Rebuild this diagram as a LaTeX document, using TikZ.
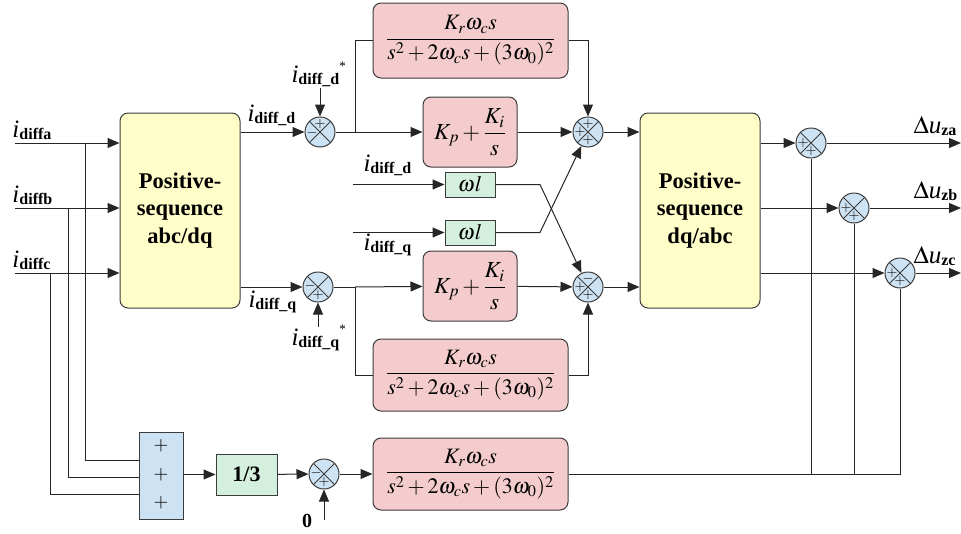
\documentclass[tikz,border=0pt]{standalone}
\usepackage{amsmath}
\usepackage{mathptmx}
\usepackage{fontspec}
\setmainfont{Liberation Serif}
\usetikzlibrary{arrows.meta,calc}
\definecolor{yelfill}{RGB}{255,253,200}
\definecolor{pinkfill}{RGB}{244,204,206}
\definecolor{grnfill}{RGB}{212,239,222}
\definecolor{bluefill}{RGB}{205,226,242}
\definecolor{edge}{RGB}{60,60,60}
\newcommand\ilab[1]{\textit{i}\raisebox{-2pt}{\fontsize{16}{16}\selectfont\textbf{#1}}}
\newcommand\ulab[1]{$\Delta$\textit{u}\raisebox{-2pt}{\fontsize{16}{16}\selectfont\textbf{#1}}}
\newcommand\stary{\raisebox{12pt}{\fontsize{13}{13}\selectfont *}}
\begin{document}
\begin{tikzpicture}[x=1pt,y=-1pt,line width=1pt,
  arr/.style={draw=black!85,-{Triangle[length=12pt,width=10pt]}},
  ln/.style={draw=black!85},
  yel/.style={draw=edge,fill=yelfill,rounded corners=8pt,minimum width=120pt,minimum height=195pt,align=center,font=\fontsize{22.5}{27.5}\selectfont\bfseries},
  pk/.style={draw=edge,fill=pinkfill,rounded corners=8pt,inner sep=0pt,font=\fontsize{22}{22}\selectfont},
  gr/.style={draw=edge,fill=grnfill,inner sep=0pt,minimum width=50pt,minimum height=25pt,font=\fontsize{22}{22}\selectfont},
  sumc/.style={circle,draw=edge,fill=bluefill,minimum size=30pt,inner sep=0pt,
    path picture={\draw[line width=0.9pt,edge] (path picture bounding box.north west)--(path picture bounding box.south east) (path picture bounding box.north east)--(path picture bounding box.south west);}},
  lab/.style={inner sep=0pt,font=\fontsize{25}{25}\selectfont},
  sg/.style={inner sep=0pt,font=\fontsize{14}{14}\selectfont}]
\useasboundingbox (0,0) rectangle (961,533);

% main blocks
\node[yel] (Y1) at (180,210.5) {Positive-\\sequence\\abc/dq};
\node[yel] (Y2) at (700,210.5) {Positive-\\sequence\\dq/abc};

\node[pk,minimum width=195pt,minimum height=75pt] (R1) at (470.5,40.5) {$\dfrac{K_r\omega_c s}{s^2+2\omega_c s+(3\omega_0)^2}$};
\node[pk,minimum width=94pt,minimum height=70pt,font=\fontsize{23}{23}\selectfont] (P1) at (470,132) {$K_p+\dfrac{K_i}{s}$};
\node[gr] (W1) at (470,184.5) {$\omega l$};
\node[gr] (W2) at (470,232.5) {$\omega l$};
\node[pk,minimum width=94pt,minimum height=70pt,font=\fontsize{23}{23}\selectfont] (P2) at (470,286) {$K_p+\dfrac{K_i}{s}$};
\node[pk,minimum width=195pt,minimum height=72pt] (R2) at (470.5,375) {$\dfrac{K_r\omega_c s}{s^2+2\omega_c s+(3\omega_0)^2}$};
\node[pk,minimum width=195pt,minimum height=72pt] (R3) at (470.5,474) {$\dfrac{K_r\omega_c s}{s^2+2\omega_c s+(3\omega_0)^2}$};

\node[draw=edge,fill=bluefill,minimum width=44pt,minimum height=87pt] (SB) at (161,475.5) {};
\node[sg,font=\fontsize{19}{19}\selectfont] (p1) at (161,446) {$+$};
\node[sg,font=\fontsize{19}{19}\selectfont] (p2) at (161,475) {$+$};
\node[sg,font=\fontsize{19}{19}\selectfont] (p3) at (161,503) {$+$};
\node[draw=edge,fill=grnfill,minimum width=61pt,minimum height=41pt,font=\fontsize{22}{22}\selectfont\bfseries] (T) at (246.5,474.5) {1/3};

% summing junctions
\node[sumc] (C1) at (320,132) {};
\node[sumc] (C2) at (318,287) {};
\node[sumc] (S1) at (588,132) {};
\node[sumc] (S2) at (588,287) {};
\node[sumc] (BC) at (324,474) {};
\node[sumc] (O1) at (811,143) {};
\node[sumc] (O2) at (854,208) {};
\node[sumc] (O3) at (900,273) {};

% signs
\node[sg] at ($(C1)+(-8,1)$) {$-$};
\node[sg] at ($(C1)+(0,-8)$) {$+$};
\node[sg] at ($(C2)+(-8,-1)$) {$-$};
\node[sg] at ($(C2)+(0,8)$) {$+$};
\node[sg] at ($(S1)+(0,-8)$) {$+$};
\node[sg] at ($(S1)+(-8,0)$) {$+$};
\node[sg] at ($(S1)+(0,8)$) {$+$};
\node[sg] at ($(S2)+(0,-8)$) {$-$};
\node[sg] at ($(S2)+(-8,0)$) {$+$};
\node[sg] at ($(S2)+(0,8)$) {$+$};
\node[sg] at ($(BC)+(-8,-1)$) {$-$};
\node[sg] at ($(BC)+(0,8)$) {$+$};
\foreach \o in {O1,O2,O3}{
  \node[sg] at ($(\o)+(-8,0)$) {$+$};
  \node[sg] at ($(\o)+(0,8)$) {$+$};
}

% coordinates
\coordinate (ina) at (15,143);
\coordinate (inb) at (15,208);
\coordinate (inc) at (15,273);
\coordinate (ja) at (85,143);
\coordinate (jb) at (68,208);
\coordinate (jc) at (50,273);
\coordinate (dstar) at (320,88);
\coordinate (qstar) at (318,327);
\coordinate (zero) at (324,520);
\coordinate (wd) at (353,184.5);
\coordinate (wq) at (353,232.5);
\coordinate (xa) at (540,184.5);
\coordinate (xb) at (540,232.5);
\coordinate (jt) at (355,132);
\coordinate (jq) at (355,287);
\coordinate (oa) at (961,143);
\coordinate (ob) at (961,208);
\coordinate (oc) at (961,273);
\coordinate (k1) at (811,474);
\coordinate (k2) at (854,474);
\coordinate (k3) at (900,474);

% input lines
\draw[arr] (ina) -- (ina -| Y1.west);
\draw[arr] (inb) -- (inb -| Y1.west);
\draw[arr] (inc) -- (inc -| Y1.west);
\draw[ln] (ja) |- (SB.west |- 0,460);
\draw[ln] (jb) |- (SB.west |- 0,477);
\draw[ln] (jc) |- (SB.west |- 0,494);
\draw[arr] (SB.east |- T) -- (T);
\draw[arr] (T) -- (BC);
\draw[arr] (zero) -- (BC);
\draw[arr] (BC) -- (R3);

% d channel
\draw[arr] (Y1.east |- C1) -- (C1);
\draw[arr] (dstar) -- (C1);
\draw[ln] (C1) -- (jt) |- (R1.west);
\draw[arr] (jt) -- (P1);
\draw[arr] (P1) -- (S1);
\draw[arr] (R1.east) -| (S1);
\draw[arr] (S1) -- (S1 -| Y2.west);

% q channel
\draw[arr] (Y1.east |- C2) -- (C2);
\draw[arr] (qstar) -- (C2);
\draw[ln] (C2) -- (jq) |- (R2.west);
\draw[arr] (jq) -- (P2);
\draw[arr] (P2) -- (S2);
\draw[arr] (R2.east) -| (S2);
\draw[arr] (S2) -- (S2 -| Y2.west);

% cross coupling
\draw[arr] (wd) -- (W1);
\draw[arr] (wq) -- (W2);
\draw[arr] (W1) -- (xa) -- (S2);
\draw[arr] (W2) -- (xb) -- (S1);

% outputs
\draw[arr] (Y2.east |- O1) -- (O1);
\draw[arr] (Y2.east |- O2) -- (O2);
\draw[arr] (Y2.east |- O3) -- (O3);
\draw[arr] (O1) -- (oa);
\draw[arr] (O2) -- (ob);
\draw[arr] (O3) -- (oc);
\draw[ln] (R3.east) -- (k3) -- (O3);
\draw[ln] (k1) -- (O1);
\draw[ln] (k2) -- (O2);

% labels
\node[lab,anchor=base west] (la) at (12,137) {\ilab{diffa}};
\node[lab,anchor=base west] (lb) at (12,202) {\ilab{diffb}};
\node[lab,anchor=base west] (lc) at (12,267) {\ilab{diffc}};
\node[lab,anchor=base west] (ld) at (247,121) {\ilab{diff\_d}};
\node[lab,anchor=base west] (lds) at (291,82) {\ilab{diff\_d}\stary};
\node[lab,anchor=base west] (lq) at (248,307) {\ilab{diff\_q}};
\node[lab,anchor=base west] (lqs) at (291,345) {\ilab{diff\_q}\stary};
\node[lab,anchor=base west] (ld2) at (363,171) {\ilab{diff\_d}};
\node[lab,anchor=base west] (lq2) at (363,250) {\ilab{diff\_q}};
\node[lab,font=\fontsize{20}{20}\selectfont\bfseries] (l0) at (307,521) {0};
\node[lab,anchor=base west] (ua) at (913,133) {\ulab{za}};
\node[lab,anchor=base west] (ub) at (913,198) {\ulab{zb}};
\node[lab,anchor=base west] (uc) at (913,263) {\ulab{zc}};
\end{tikzpicture}
\end{document}
